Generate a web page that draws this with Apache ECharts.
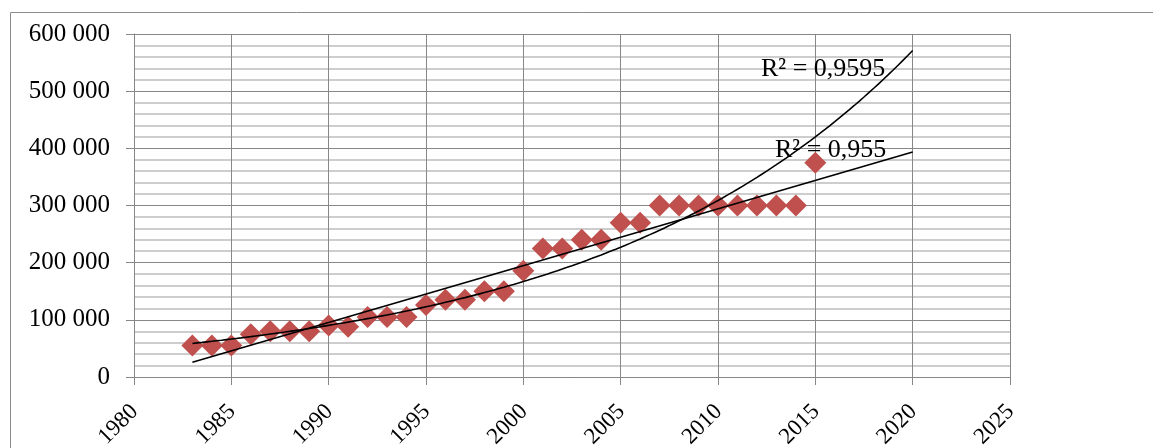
<!DOCTYPE html>
<html>
<head>
<meta charset="utf-8">
<script src="https://cdn.jsdelivr.net/npm/echarts@6/dist/echarts.min.js"></script>
<style>
html,body{margin:0;padding:0;background:#fff;}
#chart{width:1153px;height:448px;}
</style>
</head>
<body>
<div id="chart"></div>
<script>
// ---- data ----
const years = [1983,1984,1985,1986,1987,1988,1989,1990,1991,1992,1993,1994,1995,1996,1997,1998,1999,2000,2001,2002,2003,2004,2005,2006,2007,2008,2009,2010,2011,2012,2013,2014,2015];
const values = [55000,55000,55000,75000,80000,80000,80000,90000,88000,105000,105000,105000,126000,135000,135000,150000,150000,186000,225000,225000,240000,240000,270000,270000,300000,300000,300000,300000,300000,300000,300000,300000,375000];
const trendEndYear = 2020;
const r2Labels = ['R² = 0,9595', 'R² = 0,955'];
const xMin = 1980, xMax = 2025, xStep = 5;
const yMin = 0, yMax = 600000, yStep = 100000;

// ---- regressions (as Excel trendlines) ----
function linearFit(xs, ys) {
  const n = xs.length;
  const mx = xs.reduce((a,b)=>a+b,0)/n, my = ys.reduce((a,b)=>a+b,0)/n;
  let sxy=0, sxx=0;
  for (let i=0;i<n;i++){ sxy+=(xs[i]-mx)*(ys[i]-my); sxx+=(xs[i]-mx)**2; }
  const b = sxy/sxx; return {a: my-b*mx, b};
}
const lin = linearFit(years, values);
const expFit = linearFit(years, values.map(v=>Math.log(v)));
const linPts = [[years[0], lin.a+lin.b*years[0]], [trendEndYear, lin.a+lin.b*trendEndYear]];
const expPts = [];
for (let t = years[0]; t <= trendEndYear + 1e-9; t += 0.25) {
  expPts.push([t, Math.exp(expFit.a + expFit.b*t)]);
}

const serif = '"Liberation Serif","Times New Roman",serif';
const chart = echarts.init(document.getElementById('chart'));
chart.setOption({
  animation: false,
  backgroundColor: '#fff',
  grid: {left: 134, top: 34, right: 143, bottom: 71, outerBoundsMode: 'none', containLabel: false},
  graphic: [
    {type:'rect', shape:{x:10.5, y:12.5, width:1300, height:600}, style:{fill:'none', stroke:'#8c8c8c', lineWidth:1}, silent:true, z:-1},
    {type:'text', left: 761, top: 56, style:{text: r2Labels[0], font: '26px ' + serif, fill:'#000'}, z:10},
    {type:'text', left: 775, top: 137, style:{text: r2Labels[1], font: '26px ' + serif, fill:'#000'}, z:10}
  ],
  xAxis: {
    type: 'value', min: xMin, max: xMax, interval: xStep,
    axisLine: {show:true, lineStyle:{color:'#878787', width:1}},
    axisTick: {show:true, length:8, lineStyle:{color:'#878787'}},
    axisLabel: {rotate:45, margin:22, verticalAlign:'top', lineHeight:14, padding:[0,6,0,0], color:'#000', fontFamily: serif, fontSize:23, formatter: v => String(v)},
    splitLine: {show:true, lineStyle:{color:'#878787', width:1}}
  },
  yAxis: {
    type: 'value', min: yMin, max: yMax, interval: yStep,
    axisLine: {show:true, lineStyle:{color:'#878787', width:1}},
    axisTick: {show:true, length:8, lineStyle:{color:'#878787'}},
    axisLabel: {margin:24, color:'#000', fontFamily: serif, fontSize:25,
      formatter: v => String(v).replace(/\B(?=(\d{3})+(?!\d))/g, ' ')},
    splitLine: {show:true, lineStyle:{color:'#878787', width:1}},
    minorTick: {show:false, splitNumber:5},
    minorSplitLine: {show:true, lineStyle:{color:'#bdbdbd', width:1.5}}
  },
  series: [
    {type:'scatter', data: years.map((y,i)=>[y, values[i]]), symbol:'diamond', symbolSize:22,
     itemStyle:{color:'#c0504d', opacity:1}, z:3},
    {type:'line', data: expPts, showSymbol:false, symbol:'none', smooth:false,
     lineStyle:{color:'#000', width:1.6}, z:4},
    {type:'line', data: linPts, showSymbol:false, symbol:'none',
     lineStyle:{color:'#000', width:1.6}, z:4}
  ]
});
</script>
</body>
</html>
